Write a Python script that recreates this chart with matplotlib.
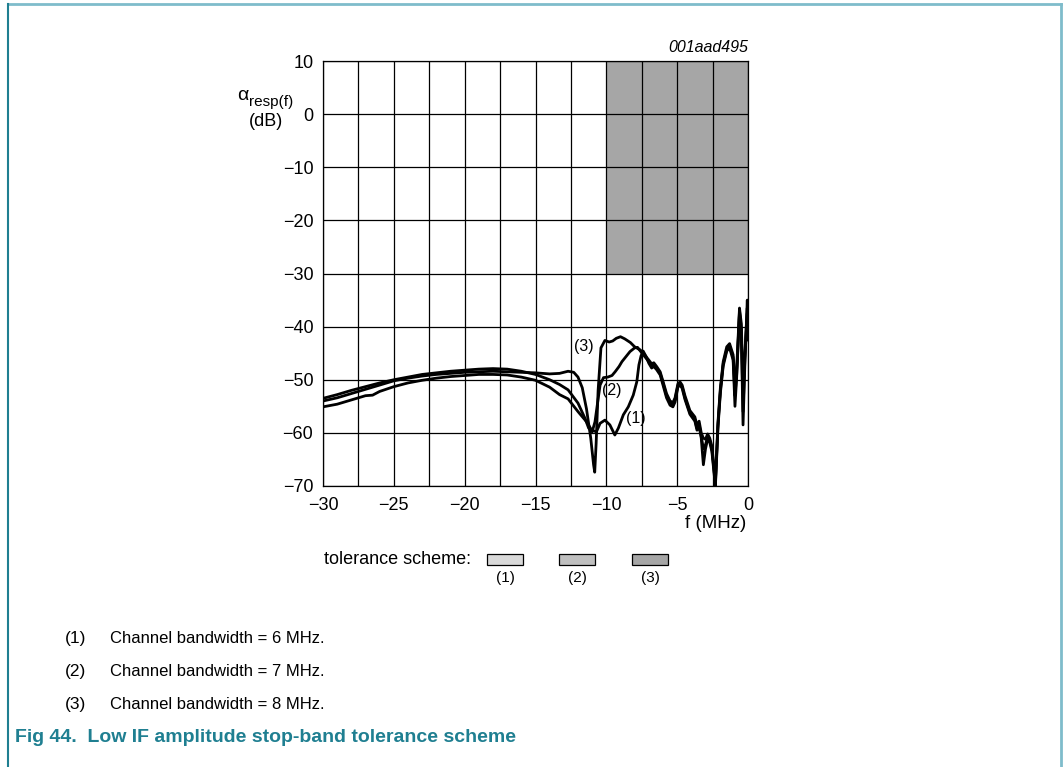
import matplotlib
matplotlib.use("Agg")
import matplotlib.pyplot as plt
from matplotlib.patches import Rectangle
from matplotlib.lines import Line2D

plt.rcParams['font.family'] = ['Liberation Sans', 'DejaVu Sans']

# ---------------- data ----------------
x_ticks = [-30, -25, -20, -15, -10, -5, 0]
x_tick_labels = ['\u221230', '\u221225', '\u221220', '\u221215', '\u221210', '\u22125', '0']
y_ticks = [10, 0, -10, -20, -30, -40, -50, -60, -70]
y_tick_labels = ['10', '0', '\u221210', '\u221220', '\u221230', '\u221240', '\u221250', '\u221260', '\u221270']

# tolerance region (3): stop band box
tol_x = [-10, 0]
tol_y = [-30, 10]

# curve (1): channel bandwidth 6 MHz
x1 = [-30, -29, -28, -27, -26.5, -26, -25, -24, -23, -22, -21, -20, -19, -18, -17, -16, -15, -14, -13.3, -12.7,
      -12.0, -11.4, -11.03, -10.7, -10.44, -10.1, -9.75, -9.4, -9.15, -8.8, -8.45, -8.1, -7.85, -7.7, -7.55, -7.4,
      -7.2, -7.0, -6.8, -6.65, -6.45, -6.2, -6.0, -5.75, -5.5, -5.3, -5.15, -4.95, -4.8, -4.65, -4.45, -4.1, -3.75,
      -3.6, -3.45, -3.3, -3.15, -3.0, -2.85, -2.7, -2.55, -2.4, -2.3, -2.12, -1.95, -1.75, -1.5, -1.3, -1.05, -0.92,
      -0.8, -0.6, -0.47, -0.35, -0.22, -0.05, 0.0]
y1 = [-55.1, -54.6, -53.8, -53.0, -52.9, -52.2, -51.3, -50.6, -50.1, -49.7, -49.4, -49.2, -49.0, -49.0, -49.1, -49.5, -50.1, -51.4, -52.8, -53.6,
      -56.0, -57.9, -59.5, -59.8, -58.2, -57.6, -58.5, -60.4, -59.1, -56.6, -55.1, -52.9, -50.4, -47.2, -45.5, -44.6,
      -45.6, -46.9, -47.8, -47.5, -48.1, -49.1, -51.0, -53.4, -54.8, -55.1, -54.2, -51.4, -51.0, -51.6, -53.7, -56.5, -57.8,
      -59.5, -58.8, -61.0, -66.0, -63.0, -61.2, -61.8, -63.5, -67.5, -70.0, -59.0, -52.5, -47.4, -44.6, -44.0, -46.3, -55.0,
      -49.5, -37.5, -41.5, -58.5, -47.0, -35.0, -42.0]

# curve (2): channel bandwidth 7 MHz
x2 = [-30, -29, -28, -27, -26, -25, -24, -23, -22, -21, -20, -19, -18, -17, -16, -15, -14, -13.3, -12.7, -12.0,
      -11.5, -11.25, -11.0, -10.8, -10.6, -10.44, -10.2, -9.9, -9.6, -9.38, -9.1, -8.9, -8.6, -8.33, -8.0, -7.8,
      -7.6, -7.3, -7.0, -6.8, -6.65, -6.45, -6.2, -6.0, -5.75, -5.5, -5.3, -5.15, -4.95, -4.8, -4.65, -4.45, -4.1,
      -3.75, -3.6, -3.45, -3.3, -3.15, -3.0, -2.85, -2.7, -2.55, -2.4, -2.3, -2.12, -1.95, -1.75, -1.5, -1.3, -1.05,
      -0.92, -0.8, -0.6, -0.47, -0.35, -0.22, -0.05, 0.0]
y2 = [-53.5, -52.8, -52.0, -51.3, -50.6, -50.0, -49.5, -49.0, -48.7, -48.4, -48.2, -48.0, -47.9, -48.0, -48.4, -49.0, -50.0, -50.9, -51.9, -54.4,
      -57.3, -59.1, -59.8, -57.9, -54.0, -51.0, -49.6, -49.5, -49.2, -48.5, -47.5, -46.6, -45.6, -44.7, -44.0, -43.9,
      -44.6, -45.6, -46.6, -47.4, -47.1, -47.8, -48.8, -50.6, -53.0, -54.4, -54.7, -53.8, -51.1, -50.7, -51.3, -53.4, -56.2,
      -57.5, -59.2, -58.4, -60.6, -63.0, -62.2, -60.8, -61.4, -63.0, -67.0, -69.5, -58.5, -52.0, -47.0, -44.3, -43.7, -45.8,
      -53.0, -49.0, -37.0, -40.5, -56.0, -46.0, -37.5, -42.5]

# curve (3): channel bandwidth 8 MHz
x3 = [-30, -29, -28, -27, -26, -25, -24, -23, -22, -21, -20, -19, -18, -17, -16, -15, -14, -13.3, -12.7, -12.3,
      -12.0, -11.7, -11.4, -11.1, -10.9, -10.82, -10.72, -10.58, -10.38, -10.1, -9.8, -9.55, -9.3, -9.0, -8.7, -8.3, -8.0,
      -7.6, -7.3, -7.0, -6.8, -6.65, -6.45, -6.2, -6.0, -5.75, -5.5, -5.3, -5.15, -4.95, -4.8, -4.65, -4.45, -4.1,
      -3.75, -3.6, -3.45, -3.3, -3.15, -3.0, -2.85, -2.7, -2.55, -2.4, -2.3, -2.12, -1.95, -1.75, -1.5, -1.3, -1.05,
      -0.92, -0.8, -0.6, -0.47, -0.35, -0.22, -0.05, 0.0]
y3 = [-54.0, -53.4, -52.6, -51.8, -51.0, -50.2, -49.7, -49.3, -49.0, -48.8, -48.6, -48.5, -48.4, -48.5, -48.6, -48.7, -48.9, -48.8, -48.4, -48.6,
      -49.5, -51.5, -55.5, -61.0, -66.0, -67.4, -62.0, -52.0, -44.0, -42.6, -42.9, -42.7, -42.2, -41.9, -42.3, -43.0, -43.8,
      -44.4, -45.3, -46.3, -47.0, -46.8, -47.5, -48.5, -50.3, -52.6, -54.0, -54.3, -53.4, -50.8, -50.4, -51.0, -53.0, -55.8,
      -57.0, -58.6, -57.8, -60.0, -61.0, -61.2, -60.2, -61.0, -62.5, -66.5, -69.0, -58.0, -51.5, -46.6, -43.8, -43.2, -45.3,
      -51.0, -48.0, -36.5, -39.5, -52.0, -45.0, -36.5, -42.0]

curve_labels = ['(1)', '(2)', '(3)']
curve_label_pos = [(-7.9, -57.2), (-9.6, -52.1), (-11.6, -43.7)]

legend_labels = ['(1)', '(2)', '(3)']
legend_colors = ['#d9d9d9', '#bfbfbf', '#a6a6a6']

notes = ['Channel bandwidth = 6 MHz.', 'Channel bandwidth = 7 MHz.', 'Channel bandwidth = 8 MHz.']
caption = 'Fig 44.  Low IF amplitude stop-band tolerance scheme'

# ---------------- figure ----------------
W, H = 1063, 767
fig = plt.figure(figsize=(W / 100, H / 100), dpi=100)


def fx(px):
    return px / W


def fy(py):
    return 1 - py / H


ax = fig.add_axes([fx(323), fy(486), fx(748) - fx(323), fy(61) - fy(486)])
ax.set_xlim(-30, 0)
ax.set_ylim(-70, 10)

ax.fill_between(tol_x, tol_y[0], tol_y[1], color=legend_colors[2], zorder=0.5, linewidth=0)

# grid every 2.5 MHz and 10 dB
for gx in [-30 + 2.5 * i for i in range(13)]:
    ax.axvline(gx, color='black', lw=0.9, zorder=1)
for gy in y_ticks:
    ax.axhline(gy, color='black', lw=0.9, zorder=1)

ax.set_xticks(x_ticks)
ax.set_xticklabels(x_tick_labels, fontsize=13)
ax.set_yticks(y_ticks)
ax.set_yticklabels(y_tick_labels, fontsize=13)
ax.tick_params(axis='y', length=0, pad=7)
ax.tick_params(axis='x', length=0, pad=8)
for s in ax.spines.values():
    s.set_linewidth(0.9)

for xs, ys in [(x1, y1), (x2, y2), (x3, y3)]:
    ax.plot(xs, ys, color='black', lw=2.0, zorder=3, solid_joinstyle='round')

for lab, (lx, ly) in zip(curve_labels, curve_label_pos):
    ax.text(lx, ly, lab, fontsize=11.5, ha='center', va='center', zorder=4)

# axis labels
fig.text(fx(243), fy(96), '\u03b1', fontsize=14, ha='center', va='center')
fig.text(fx(249), fy(102), 'resp(f)', fontsize=11, ha='left', va='center')
fig.text(fx(266), fy(121), '(dB)', fontsize=13, ha='center', va='center')
fig.text(fx(716), fy(524), 'f (MHz)', fontsize=13.5, ha='center', va='center')
fig.text(fx(748), fy(47), '001aad495', fontsize=11.5, style='italic', ha='right', va='center')

# tolerance scheme legend
fig.text(fx(471), fy(560), 'tolerance scheme:', fontsize=13, ha='right', va='center')
leg_x = [487, 559, 632]
for lx, col, lab in zip(leg_x, legend_colors, legend_labels):
    fig.add_artist(Rectangle((fx(lx), fy(565)), fx(36), 11 / H, transform=fig.transFigure,
                             facecolor=col, edgecolor='black', lw=0.9))
    fig.text(fx(lx + 18), fy(578), lab, fontsize=11, ha='center', va='center')

# notes
for i, n in enumerate(notes):
    yy = 643 + 33 * i
    fig.text(fx(65), fy(yy), '(%d)' % (i + 1), fontsize=12.5, ha='left', va='baseline')
    fig.text(fx(110), fy(yy), n, fontsize=12, ha='left', va='baseline')

fig.text(fx(15), fy(738), caption, fontsize=14, fontweight='bold', color='#1f7f91',
         ha='left', va='center')

# page frame
fig.add_artist(Line2D([fx(8), fx(1061)], [fy(4), fy(4)], transform=fig.transFigure, color='#7fbccb', lw=2))
fig.add_artist(Line2D([fx(8), fx(8)], [fy(4), fy(767)], transform=fig.transFigure, color='#1f7f91', lw=1.5))
fig.add_artist(Line2D([fx(1061), fx(1061)], [fy(4), fy(767)], transform=fig.transFigure, color='#7fbccb', lw=2))

fig.savefig('out.png', dpi=100)
